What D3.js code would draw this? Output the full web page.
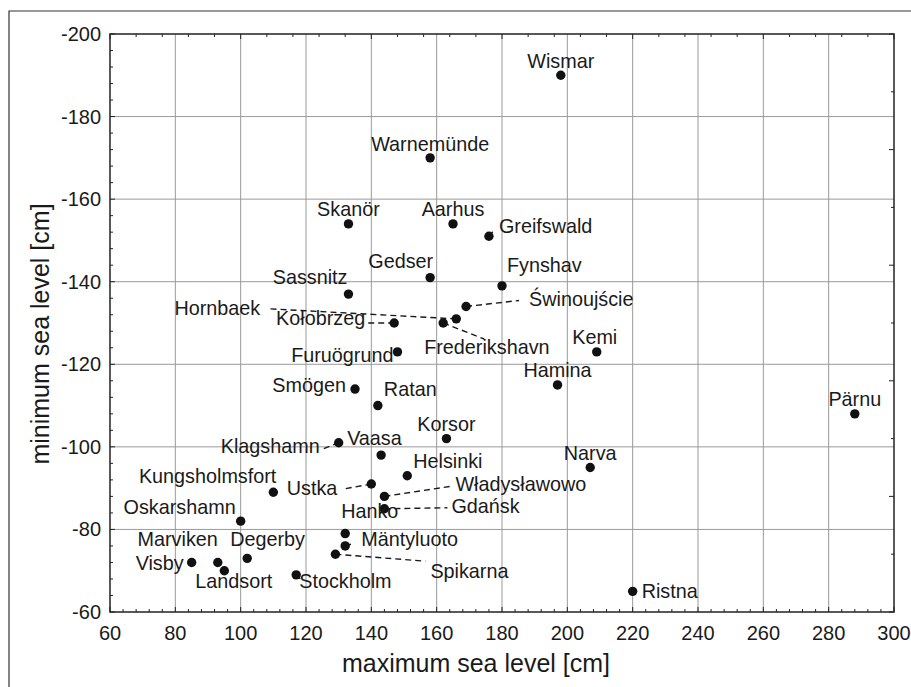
<!DOCTYPE html>
<html>
<head>
<meta charset="utf-8">
<script src="https://cdn.jsdelivr.net/npm/d3@7"></script>
<style>
  html, body { margin: 0; padding: 0; background: #fff; }
  svg { display: block; }
  text { font-family: "Liberation Sans", Arial, Helvetica, sans-serif; fill: #1a1a1a; }
</style>
</head>
<body>
<svg id="chart" width="911" height="687"></svg>
<script>
// Tide-gauge stations and their extreme sea levels [cm]
const stations = [
  "Wismar", "Warnemünde", "Skanör", "Aarhus", "Greifswald", "Gedser", "Fynshav",
  "Sassnitz", "Świnoujście", "Hornbaek", "Frederikshavn", "Kołobrzeg", "Furuögrund",
  "Kemi", "Hamina", "Smögen", "Pärnu", "Ratan", "Korsor", "Klagshamn", "Vaasa",
  "Narva", "Helsinki", "Ustka", "Kungsholmsfort", "Władysławowo", "Gdańsk",
  "Oskarshamn", "Hanko", "Mäntyluoto", "Spikarna", "Marviken", "Degerby", "Visby",
  "Landsort", "Stockholm", "Ristna"
];
const maxLevel = [
  198, 158, 133, 165, 176, 158, 180,
  133, 169, 166, 162, 147, 148,
  209, 197, 135, 288, 142, 163, 130, 143,
  207, 151, 140, 110, 144, 144,
  100, 132, 132, 129, 93, 102, 85,
  95, 117, 220
];
const minLevel = [
  -190, -170, -154, -154, -151, -141, -139,
  -137, -134, -131, -130, -130, -123,
  -123, -115, -114, -108, -110, -102, -101, -98,
  -95, -93, -91, -89, -88, -85,
  -82, -79, -76, -74, -72, -73, -72,
  -70, -69, -65
];
const xTicks = [60, 80, 100, 120, 140, 160, 180, 200, 220, 240, 260, 280, 300];
const yTicks = [-200, -180, -160, -140, -120, -100, -80, -60];

// Label placement: offset from the point [dx, dy], text anchor, optional leader end offset
const labelLayout = [
  [0, -7, "middle", null], [0, -7, "middle", null], [0, -8, "middle", null],
  [0, -8, "middle", null], [10, -3, "start", [5, -6]], [3, -10, "end", null],
  [5, -14, "start", null], [-1, -10, "end", null], [63, 0, "start", [53, -6]],
  [-196, -4, "end", [-186, -10]], [-19, 31, "start", [41, 16]], [-29, 2, "end", [-27, 0]],
  [-4, 10, "end", null], [-2, -8, "middle", null], [0, -8, "middle", null],
  [-9, 3, "end", null], [0, -8, "middle", null], [6, -10, "start", null],
  [0, -8, "middle", null], [-19, 10, "end", [-15, 6]], [-34, -10, "start", null],
  [0, -8, "middle", null], [6, -8, "start", null], [-34, 11, "end", [-28, 5]],
  [3, -9, "end", null], [71, -5, "start", [66, -10]], [67, 4, "start", [63, -1]],
  [-5, -7, "end", null], [-4, -16, "start", null], [16, 0, "start", [7, -2]],
  [95, 24, "start", [90, 7]], [0, -16, "end", null], [-17, -12, "start", null],
  [-8, 8, "end", null], [-29, 17, "start", null], [3, 13, "start", [4, 4]],
  [9, 7, "start", null]
];

const svg = d3.select("#chart");
const plotL = 110, plotR = 894, plotT = 34, plotB = 612;

const x = d3.scaleLinear().domain([60, 300]).range([plotL, plotR]);
const y = d3.scaleLinear().domain([-200, -60]).range([plotT, plotB]);

// outer frame
svg.append("path")
  .attr("d", "M9,687 V11 H911")
  .attr("fill", "none").attr("stroke", "#333").attr("stroke-width", 1.2);

// grid
const grid = svg.append("g").attr("stroke", "#9a9a9a").attr("stroke-width", 1);
grid.selectAll("line.gx").data(xTicks.slice(1, -1)).join("line")
  .attr("x1", d => x(d)).attr("x2", d => x(d)).attr("y1", plotT).attr("y2", plotB);
grid.selectAll("line.gy").data(yTicks.slice(1, -1)).join("line")
  .attr("y1", d => y(d)).attr("y2", d => y(d)).attr("x1", plotL).attr("x2", plotR);

// inner tick marks on the four sides
const tickG = svg.append("g").attr("stroke", "#222").attr("stroke-width", 1);
const steps = (a, b, s) => d3.range(a, b + s / 2, s);
// bottom: every 4 units
tickG.append("g").selectAll("line").data(steps(60, 300, 4)).join("line")
  .attr("x1", d => x(d)).attr("x2", d => x(d))
  .attr("y1", plotB).attr("y2", d => plotB - (d % 20 === 0 ? 5 : 3));
// left: every 4 units
tickG.append("g").selectAll("line").data(steps(-200, -60, 4)).join("line")
  .attr("y1", d => y(d)).attr("y2", d => y(d))
  .attr("x1", plotL).attr("x2", d => plotL + (d % 20 === 0 ? 5 : 3));
// top: every 8 units, longer every 40
tickG.append("g").selectAll("line").data(steps(60, 300, 8)).join("line")
  .attr("x1", d => x(d)).attr("x2", d => x(d))
  .attr("y1", plotT).attr("y2", d => plotT + ((d - 60) % 40 === 0 ? 5 : 3));
// right: ten divisions, longer every second one
tickG.append("g").selectAll("line").data(steps(-200, -60, 14)).join("line")
  .attr("y1", d => y(d)).attr("y2", d => y(d))
  .attr("x1", plotR).attr("x2", d => plotR - ((d + 200) % 28 === 0 ? 5 : 3));

// plot box
svg.append("rect")
  .attr("x", plotL).attr("y", plotT).attr("width", plotR - plotL).attr("height", plotB - plotT)
  .attr("fill", "none").attr("stroke", "#222").attr("stroke-width", 1.5);

// tick labels
svg.append("g").selectAll("text").data(xTicks).join("text")
  .attr("x", d => x(d)).attr("y", plotB + 28)
  .attr("text-anchor", "middle").attr("font-size", 20)
  .text(d => d);
svg.append("g").selectAll("text").data(yTicks).join("text")
  .attr("x", plotL - 9).attr("y", d => y(d) + 7)
  .attr("text-anchor", "end").attr("font-size", 20)
  .text(d => d);

// axis titles
svg.append("text")
  .attr("x", 476).attr("y", 672)
  .attr("text-anchor", "middle").attr("font-size", 25)
  .text("maximum sea level [cm]");
svg.append("text")
  .attr("transform", "translate(49,334) rotate(-90)")
  .attr("text-anchor", "middle").attr("font-size", 25)
  .text("minimum sea level [cm]");

// points, leaders and labels
const pts = stations.map((name, i) => ({
  name, max: maxLevel[i], min: minLevel[i], lay: labelLayout[i]
}));

svg.append("g").selectAll("line").data(pts.filter(d => d.lay[3])).join("line")
  .attr("x1", d => x(d.max)).attr("y1", d => y(d.min))
  .attr("x2", d => x(d.max) + d.lay[3][0]).attr("y2", d => y(d.min) + d.lay[3][1])
  .attr("stroke", "#1a1a1a").attr("stroke-width", 1.4).attr("stroke-dasharray", "6,4");

svg.append("g").selectAll("circle").data(pts).join("circle")
  .attr("cx", d => x(d.max)).attr("cy", d => y(d.min)).attr("r", 4.7)
  .attr("fill", "#111");

svg.append("g").selectAll("text").data(pts).join("text")
  .attr("x", d => x(d.max) + d.lay[0]).attr("y", d => y(d.min) + d.lay[1])
  .attr("text-anchor", d => d.lay[2]).attr("font-size", 19.8)
  .text(d => d.name);
</script>
</body>
</html>
